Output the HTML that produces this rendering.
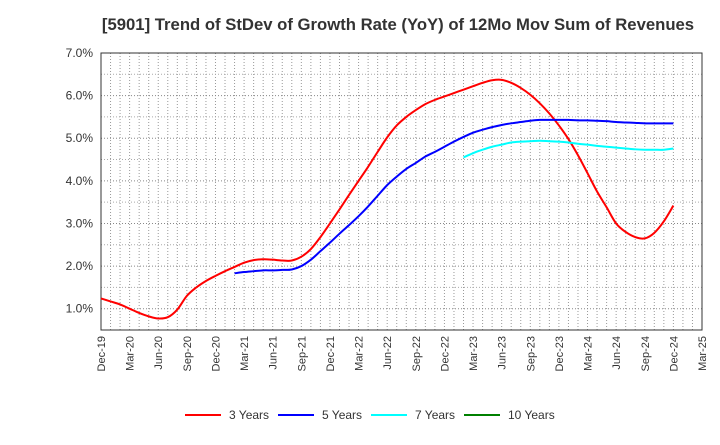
<!DOCTYPE html>
<html><head><meta charset="utf-8"><style>
body{margin:0;background:#fff;}
svg text{font-family:"Liberation Sans",Arial,sans-serif;}
</style></head><body>
<svg id="chart" width="720" height="440" xmlns="http://www.w3.org/2000/svg">
<text x="398" y="30" text-anchor="middle" font-size="16.7" font-weight="bold" fill="#333">[5901]  Trend of StDev of Growth Rate (YoY) of 12Mo Mov Sum of Revenues</text>
<g id="grid"></g><g id="axes"></g><g id="series"></g><g id="legend"></g>
</svg>
<script>
const xLabels=["Dec-19","Mar-20","Jun-20","Sep-20","Dec-20","Mar-21","Jun-21","Sep-21","Dec-21","Mar-22","Jun-22","Sep-22","Dec-22","Mar-23","Jun-23","Sep-23","Dec-23","Mar-24","Jun-24","Sep-24","Dec-24","Mar-25"];
const yTicks=[1,2,3,4,5,6,7];
const red=[1.24,1.17,1.1,1.0,0.9,0.82,0.77,0.8,0.98,1.3,1.5,1.65,1.77,1.88,1.98,2.08,2.14,2.16,2.15,2.13,2.13,2.22,2.4,2.68,3.0,3.33,3.67,4.0,4.33,4.68,5.02,5.3,5.5,5.66,5.8,5.9,5.98,6.06,6.14,6.22,6.3,6.36,6.37,6.3,6.18,6.02,5.82,5.58,5.3,4.98,4.6,4.18,3.75,3.38,3.0,2.8,2.68,2.65,2.78,3.05,3.42];
const blue=[1.83,1.86,1.88,1.9,1.9,1.91,1.92,2.0,2.15,2.35,2.55,2.76,2.96,3.17,3.4,3.65,3.9,4.1,4.28,4.42,4.57,4.68,4.8,4.92,5.03,5.13,5.2,5.26,5.31,5.35,5.38,5.41,5.43,5.43,5.43,5.43,5.42,5.42,5.41,5.4,5.38,5.37,5.36,5.35,5.35,5.35,5.35];
const blueStart=14;
const cyan=[4.55,4.65,4.73,4.8,4.85,4.9,4.92,4.93,4.94,4.93,4.92,4.9,4.87,4.85,4.82,4.8,4.78,4.76,4.74,4.73,4.73,4.73,4.76];
const cyanStart=38;
const legendNames=["3 Years","5 Years","7 Years","10 Years"];
const legendColors=["#ff0000","#0000ff","#00ffff","#008000"];

const L=101,R=702,T=53,B=330,yMin=0.5,yMax=7,nMonths=63;
const X=m=>L+(R-L)*m/nMonths;
const Y=v=>B-(B-T)*(v-yMin)/(yMax-yMin);
const NS="http://www.w3.org/2000/svg";
function mk(tag,attrs,parent){const e=document.createElementNS(NS,tag);for(const k in attrs)e.setAttribute(k,attrs[k]);parent.appendChild(e);return e;}
const grid=document.getElementById('grid'),axes=document.getElementById('axes'),series=document.getElementById('series'),legend=document.getElementById('legend');
for(let m=1;m<nMonths;m++){const l=mk('line',{x1:X(m),x2:X(m),y1:T,y2:B,stroke:'#999','stroke-dasharray':'1,2','stroke-width':1},grid);

}
for(let v=1;v<7;v+=0.5){const l=mk('line',{x1:L,x2:R,y1:Y(v),y2:Y(v),stroke:(v%1===0)?'#888':'#aaa','stroke-dasharray':'1,2','stroke-width':1},grid);

}
const frame=mk('rect',{x:L,y:T,width:R-L,height:B-T,fill:'none',stroke:'#333','stroke-width':1},axes);


yTicks.forEach(v=>{const t=mk('text',{x:L-8,y:Y(v)+4,'text-anchor':'end','font-size':12,fill:'#333'},axes);t.textContent=v.toFixed(1)+'%';

});
xLabels.forEach((s,i)=>{const x=X(i*3);const t=mk('text',{x:0,y:0,'text-anchor':'end','font-size':11,fill:'#333',transform:`translate(${x+4},${B+6}) rotate(-90)`},axes);t.textContent=s;

});
function path(vals,start){const p=vals.map((v,i)=>[X(start+i),Y(v)]);let d=`M${p[0][0]},${p[0][1]}`;
for(let i=0;i<p.length-1;i++){const p0=p[Math.max(0,i-1)],p1=p[i],p2=p[i+1],p3=p[Math.min(p.length-1,i+2)];
d+=` C${p1[0]+(p2[0]-p0[0])/6},${p1[1]+(p2[1]-p0[1])/6} ${p2[0]-(p3[0]-p1[0])/6},${p2[1]-(p3[1]-p1[1])/6} ${p2[0]},${p2[1]}`;}return d;}
const sr=mk('path',{d:path(red,0),fill:'none',stroke:'#ff0000','stroke-width':2},series);


const sb=mk('path',{d:path(blue,blueStart),fill:'none',stroke:'#0000ff','stroke-width':2},series);


const sc=mk('path',{d:path(cyan,cyanStart),fill:'none',stroke:'#00ffff','stroke-width':2},series);


const lx=[185,278,371,464];
legendNames.forEach((n,i)=>{const g=mk('g',{},legend);


mk('line',{x1:lx[i],x2:lx[i]+36,y1:415,y2:415,stroke:legendColors[i],'stroke-width':2},g);
const t=mk('text',{x:lx[i]+44,y:419,'font-size':12,fill:'#333'},g);t.textContent=n;});
</script>
</body></html>
